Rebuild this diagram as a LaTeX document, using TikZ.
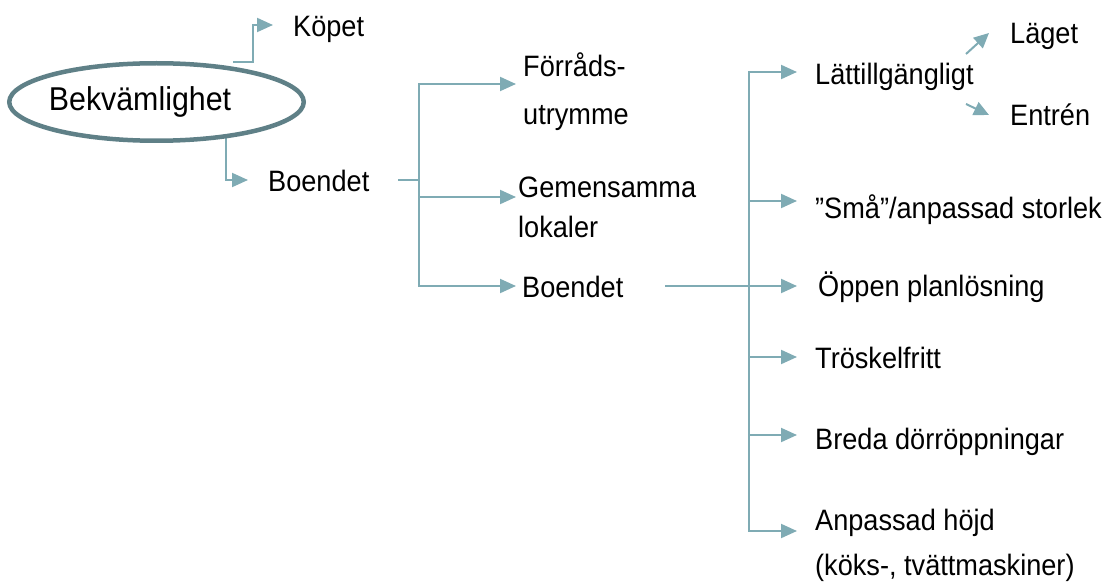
\documentclass[tikz,border=0pt]{standalone}
\usepackage{fontspec}
\setmainfont{Liberation Sans}[FakeStretch=0.92]
\usetikzlibrary{shapes.geometric,arrows.meta,backgrounds}
\definecolor{conn}{HTML}{7FABB4}
\definecolor{ell}{HTML}{5F8087}
\newcommand{\twolines}[3]{\begin{tabular}[t]{@{}l@{}}#1\\[#3]#2\end{tabular}}
\begin{document}
\begin{tikzpicture}[x=1pt,y=-1pt,
  txt/.style={anchor=base west,inner sep=0pt,font=\fontsize{29.5}{36}\selectfont},
  line/.style={draw=conn,line width=2pt},
  arr/.style={line,-{Triangle[length=16pt,width=14pt]}},
  sarr/.style={line,-{Triangle[length=15pt,width=14pt]}}]
\useasboundingbox (0,0) rectangle (1106,583);
\node[ellipse,draw=ell,line width=4.5pt,minimum width=294.5pt,minimum height=77.5pt,inner sep=0pt,
  font=\fontsize{33}{40}\selectfont] (bek) at (156.5,102) {\raisebox{-2pt}{\makebox[0pt]{Bekvämlighet\hspace{33pt}}}};
\node[txt] (kop) at (293,37) {Köpet};
\node[txt] (boe1) at (268,191) {Boendet};
\node[txt] (forr) at (523,77) {\twolines{Förråds-}{utrymme}{12pt}};
\node[txt] (gem) at (518,197) {\twolines{Gemensamma}{lokaler}{4pt}};
\node[txt] (boe2) at (522,297) {Boendet};
\node[txt] (latt) at (815,85) {Lättillgängligt};
\node[txt] (lag) at (1010,44) {Läget};
\node[txt] (ent) at (1010,126) {Entrén};
\node[txt] (sma) at (815,218) {”Små”/anpassad storlek};
\node[txt] (opp) at (818,296) {Öppen planlösning};
\node[txt] (tro) at (815,368) {Tröskelfritt};
\node[txt] (bre) at (815,449) {Breda dörröppningar};
\node[txt] (anp) at (815,530) {\twolines{Anpassad höjd}{(köks-, tvättmaskiner)}{9pt}};
\coordinate (b1out) at (398,180);
\coordinate (j2) at (419,180);
\coordinate (b2out) at (665,286);
\coordinate (j3) at (749,286);
\coordinate (l1) at (966,54);
\coordinate (l2) at (966,104);
\begin{scope}[on background layer]
\draw[arr] ([shift={(76.5pt,-1pt)}]bek.north) -- ++(20,0) |- ([shift={(-20pt,12pt)}]kop.base west);
\draw[arr] ([shift={(69.5pt,8pt)}]bek.south) |- ([shift={(-20pt,11pt)}]boe1.base west);
\draw[line] (b1out) -- (j2);
\draw[arr] (j2) |- ([shift={(-7pt,-7pt)}]forr.base west);
\draw[arr] (j2) |- ([shift={(-2pt,0pt)}]gem.base west);
\draw[arr] (j2) |- ([shift={(-6pt,11pt)}]boe2.base west);
\draw[line] (b2out) -- (j3);
\draw[arr] (j3) |- ([shift={(-18pt,13pt)}]latt.base west);
\draw[arr] (j3) |- ([shift={(-18pt,17pt)}]sma.base west);
\draw[arr] (j3) |- ([shift={(-21pt,10pt)}]opp.base west);
\draw[arr] (j3) |- ([shift={(-18pt,11pt)}]tro.base west);
\draw[arr] (j3) |- ([shift={(-18pt,14pt)}]bre.base west);
\draw[arr] (j3) |- ([shift={(-18pt,-1pt)}]anp.base west);
\draw[sarr] (l1) -- ([shift={(-21pt,11pt)}]lag.base west);
\draw[sarr] (l2) -- ([shift={(-21pt,11pt)}]ent.base west);
\end{scope}
\end{tikzpicture}
\end{document}
